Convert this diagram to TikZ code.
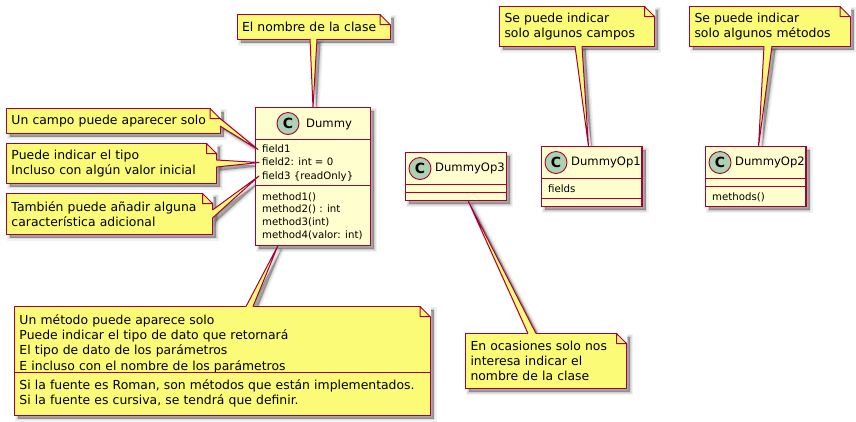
\documentclass[tikz,border=0pt]{standalone}
\usepackage{fontspec}
\setmainfont{DejaVu Sans}
\usetikzlibrary{calc}
\definecolor{umlred}{HTML}{A80036}
\definecolor{umlclass}{HTML}{FEFECE}
\definecolor{umlnote}{HTML}{FBFB77}
\definecolor{umlcircle}{HTML}{ADD1B2}
\pgfdeclarelayer{shadowlayer}
\pgfsetlayers{shadowlayer,main}
\tikzset{
  softshadow/.style={
    preaction={draw=black, draw opacity=.05, line width=6pt, transform canvas={shift={(3.5pt,-3.5pt)}}},
    preaction={draw=black, draw opacity=.07, line width=3.5pt, transform canvas={shift={(3.5pt,-3.5pt)}}},
    preaction={draw=black, draw opacity=.09, line width=1.5pt, transform canvas={shift={(3.5pt,-3.5pt)}}},
    preaction={fill=black, fill opacity=.30, transform canvas={shift={(3.5pt,-3.5pt)}}}
  },
  classbox/.style={draw=umlred, line width=1.3pt, fill=umlclass, rectangle,
    anchor=north west, inner sep=0pt, outer sep=0pt, softshadow},
  classline/.style={draw=umlred, line width=1pt},
  classname/.style={anchor=west, inner sep=0pt, font=\fontsize{11.6}{14}\selectfont},
  classtext/.style={anchor=west, inner sep=0pt, text height=9pt, text depth=3pt,
    font=\fontsize{10.2}{12.7}\selectfont},
  circleC/.style={circle, draw=umlred, line width=.9pt, fill=umlcircle, minimum size=22pt,
    inner sep=0pt, font=\fontsize{14}{14}\selectfont\bfseries},
  notebox/.style 2 args={draw=umlred, line width=1pt, fill=umlnote, rectangle,
    anchor=north west, align=left, text width=#1pt, minimum height=#2pt,
    inner xsep=5pt, inner ysep=0pt, outer sep=0pt, softshadow,
    font=\fontsize{12.4}{15}\selectfont},
  notefold/.style={draw=umlred, line width=1pt, fill=umlnote, line join=round}
}
% folded corner of a note
\newcommand{\notecorner}[1]{
  \fill[white] ([xshift=-10pt,yshift=.8pt]#1.north east) -- ([xshift=.8pt,yshift=.8pt]#1.north east)
    -- ([xshift=.8pt,yshift=-10pt]#1.north east) -- cycle;
  \draw[notefold] ([xshift=-10pt]#1.north east) -- ([xshift=-10pt,yshift=-10pt]#1.north east)
    -- ([yshift=-10pt]#1.north east) -- cycle;
}
% tail of a note: first base point, tip, second base point
\newcommand{\notetail}[3]{
  \begin{pgfonlayer}{shadowlayer}
    \path[softshadow] #1 -- #2 -- #3 -- cycle;
  \end{pgfonlayer}
  \fill[umlnote] #1 -- #2 -- #3 -- cycle;
  \draw[umlnote, line width=1.6pt] #1 -- #3;
  \draw[umlred, line width=1pt, line join=round] #1 -- #2 -- #3;
}
\begin{document}
\begin{tikzpicture}[x=1pt, y=-1pt]
  \useasboundingbox (0,0) rectangle (856,421);

  % classes
  \node[classbox, minimum width=115pt, minimum height=138pt] (dummy) at (255.5,107.5) {};
  \draw[classline] (dummy.west |- 0,139) -- (dummy.east |- 0,139);
  \draw[classline] (dummy.west |- 0,185) -- (dummy.east |- 0,185);
  \node[circleC] (dummyC) at (288,123.5) {C};
  \node[classname] (dummyname) at (306,124) {Dummy};
  \node[classtext] (fieldone) at (262,149.5) {field1};
  \node[classtext] (fieldtwo) at (262,162.5) {field2: int = 0};
  \node[classtext] (fieldthree) at (262,176) {field3 \{readOnly\}};
  \node[classtext] (methodone) at (262,197.5) {method1()};
  \node[classtext] (methodtwo) at (262,209.5) {method2() : int};
  \node[classtext] (methodthree) at (262,222) {method3(int)};
  \node[classtext] (methodfour) at (262,235) {method4(valor: int)};

  \node[classbox, minimum width=101pt, minimum height=48pt] (opthree) at (405.5,152.5) {};
  \draw[classline] (opthree.west |- 0,184) -- (opthree.east |- 0,184);
  \draw[classline] (opthree.west |- 0,192.5) -- (opthree.east |- 0,192.5);
  \node[circleC] (opthreeC) at (420,168.5) {C};
  \node[classname] (opthreename) at (435,168.5) {DummyOp3};

  \node[classbox, minimum width=100.5pt, minimum height=60pt] (opone) at (541.5,146.5) {};
  \draw[classline] (opone.west |- 0,178.5) -- (opone.east |- 0,178.5);
  \draw[classline] (opone.west |- 0,198) -- (opone.east |- 0,198);
  \node[circleC] (oponeC) at (556,162.5) {C};
  \node[classname] (oponename) at (571,162.5) {DummyOp1};
  \node[classtext] (fields) at (548,189) {fields};

  \node[classbox, minimum width=100.5pt, minimum height=60pt] (optwo) at (705.5,146.5) {};
  \draw[classline] (optwo.west |- 0,178.5) -- (optwo.east |- 0,178.5);
  \draw[classline] (optwo.west |- 0,186.5) -- (optwo.east |- 0,186.5);
  \node[circleC] (optwoC) at (720,162.5) {C};
  \node[classname] (optwoname) at (735,162.5) {DummyOp2};
  \node[classtext] (methods) at (712,197) {methods()};

  % notes
  \node[notebox={143}{24.5}] (nombre) at (237,14.5) {El nombre de la clase};
  \node[notebox={203.5}{24.5}] (campo) at (6.5,108.5) {Un campo puede aparecer solo};
  \node[notebox={200}{39.5}] (tipo) at (6.5,143.5) {Puede indicar el tipo\\Incluso con algún valor inicial};
  \node[notebox={196}{40.5}] (adicional) at (6.5,193.5) {También puede añadir alguna\\característica adicional};
  \node[notebox={405.5}{108.5}] (metodo) at (14.5,306.5) {Un método puede aparece solo\\Puede indicar el tipo de dato que retornará\\El tipo de dato de los parámetros\\[.8pt]E incluso con el nombre de los parámetros\\[3.5pt]Si la fuente es Roman, son métodos que están implementados.\\Si la fuente es cursiva, se tendrá que definir.\\[6pt]};
  \draw[draw=umlred, line width=1pt] (metodo.west |- 0,372.5) -- (metodo.east |- 0,372.5);
  \node[notebox={151}{55}] (ocasiones) at (465.5,333.5) {En ocasiones solo nos\\interesa indicar el\\nombre de la clase};
  \node[notebox={145}{39.5}] (campos) at (499.5,6.5) {Se puede indicar\\solo algunos campos};
  \node[notebox={150.5}{39.5}] (metodos) at (689.5,6.5) {Se puede indicar\\solo algunos métodos};

  \notecorner{nombre}
  \notecorner{campo}
  \notecorner{tipo}
  \notecorner{adicional}
  \notecorner{metodo}
  \notecorner{ocasiones}
  \notecorner{campos}
  \notecorner{metodos}

  % tails
  \notetail{([xshift=73pt]nombre.south west)}{(dummy.north)}{([xshift=80pt]nombre.south west)}
  \notetail{([yshift=-10pt]campo.north east)}{([xshift=-4pt]fieldone.west)}{([yshift=-17.5pt]campo.north east)}
  \notetail{([yshift=-16.5pt]tipo.north east)}{([xshift=-3pt]fieldtwo.west)}{([yshift=-23.5pt]tipo.north east)}
  \notetail{([yshift=-16.5pt]adicional.north east)}{([xshift=-3pt]fieldthree.west)}{([yshift=-24.5pt]adicional.north east)}
  \notetail{([xshift=231.5pt]metodo.north west)}{([xshift=22.5pt]dummy.south west)}{([xshift=238.5pt]metodo.north west)}
  \notetail{([xshift=62.5pt]ocasiones.north west)}{([xshift=62.5pt]opthree.south west)}{([xshift=70.5pt]ocasiones.north west)}
  \notetail{([xshift=75.5pt]campos.south west)}{([xshift=47pt]opone.north west)}{([xshift=82.5pt]campos.south west)}
  \notetail{([xshift=74.5pt]metodos.south west)}{([xshift=53pt]optwo.north west)}{([xshift=82.5pt]metodos.south west)}
\end{tikzpicture}
\end{document}
